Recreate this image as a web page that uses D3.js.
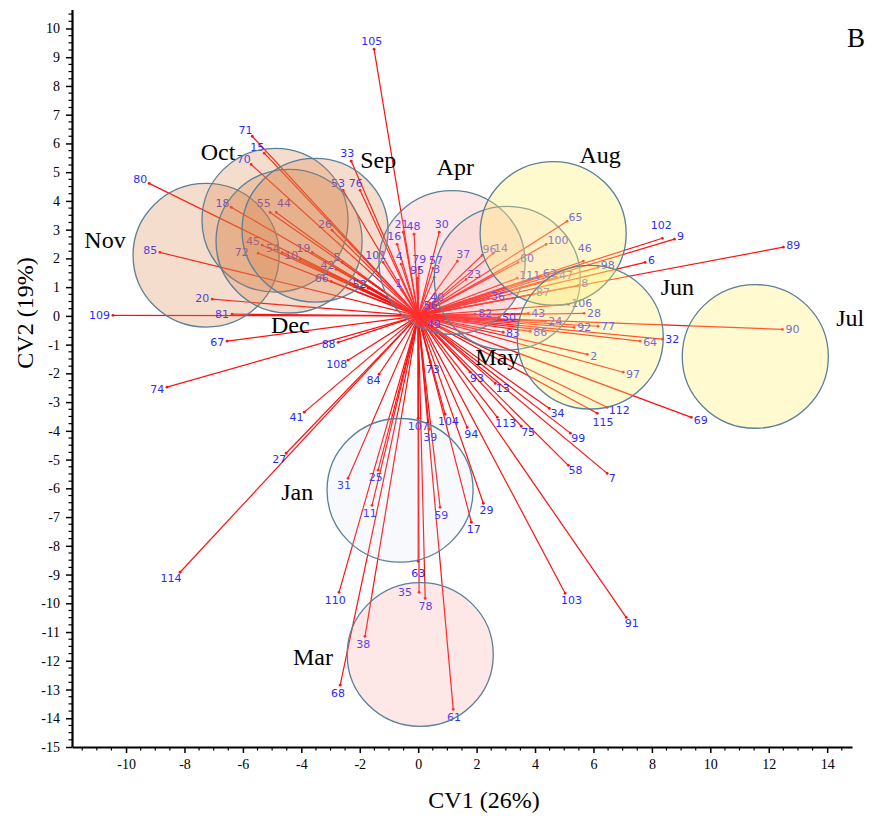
<!DOCTYPE html>
<html>
<head>
<meta charset="utf-8">
<script src="https://cdn.jsdelivr.net/npm/d3@7"></script>
<style>
  body { margin: 0; background: #fff; }
</style>
</head>
<body>
<div id="chart"></div>
<script>
// vector end points (CV1, CV2) per variable
const ids = [109, 80, 85, 74, 20, 81, 67, 18, 71, 15, 70, 55, 44, 45, 72, 54, 10, 19, 26, 5,
  42, 66, 52, 101, 33, 53, 76, 105, 16, 21, 48, 30, 4, 79, 95, 57, 3, 1, 40, 56,
  49, 65, 100, 46, 98, 60, 14, 96, 37, 23, 111, 62, 47, 8, 87, 36, 106, 28, 43, 82,
  50, 24, 92, 77, 86, 83, 102, 9, 6, 89, 90, 32, 64, 2, 97, 112, 115, 69, 99, 7,
  58, 34, 103, 91, 73, 93, 13, 113, 75, 94, 104, 107, 39, 84, 88, 108, 41, 27, 114, 31,
  25, 11, 59, 29, 17, 110, 63, 35, 78, 38, 68, 61];
const cv1 = [-10.45, -9.21, -8.84, -8.60, -7.05, -6.37, -6.54, -6.40, -5.68, -5.27, -5.72, -5.07, -4.86, -5.34, -5.48, -4.66, -4.04, -3.63, -2.95, -2.60,
  -2.81, -2.98, -1.71, -1.20, -2.29, -2.57, -1.99, -1.51, -0.72, -0.51, -0.14, 0.72, -0.58, 0.03, -0.03, 0.51, 0.55, -0.55, 0.41, 0.17,
  0.24, 5.10, 4.38, 5.65, 6.16, 3.42, 2.57, 2.19, 1.34, 1.64, 3.39, 4.18, 4.73, 5.48, 3.94, 2.40, 5.14, 5.68, 3.77, 1.95,
  2.77, 4.35, 5.34, 6.16, 3.84, 2.91, 8.36, 8.77, 7.77, 12.50, 12.47, 8.36, 7.60, 5.79, 7.02, 6.47, 6.13, 9.35, 5.21, 6.47,
  5.14, 4.49, 5.03, 7.12, 0.41, 1.78, 2.64, 2.71, 3.53, 1.68, 0.92, 0.00, 0.38, -1.34, -2.74, -2.40, -3.90, -4.52, -8.15, -2.40,
  -1.37, -1.58, 0.75, 2.23, 1.82, -2.71, 0.00, 0.03, 0.24, -1.82, -2.67, 1.20];
const cv2 = [0.02, 4.61, 2.21, -2.48, 0.58, 0.06, -0.88, 3.78, 6.25, 5.66, 5.27, 3.60, 3.60, 2.46, 2.18, 2.21, 1.97, 2.21, 2.98, 1.86,
  1.62, 1.20, 0.96, 1.86, 5.38, 4.37, 4.37, 9.28, 2.49, 2.91, 2.84, 2.91, 1.80, 1.69, 1.31, 1.66, 1.34, 0.89, 0.44, 0.16,
  -0.15, 3.29, 2.49, 1.90, 1.69, 1.86, 2.18, 2.11, 1.90, 1.27, 1.31, 1.38, 1.34, 1.06, 0.75, 0.61, 0.40, 0.09, 0.09, 0.06,
  -0.05, -0.19, -0.40, -0.36, -0.54, -0.57, 2.70, 2.67, 1.86, 2.39, -0.47, -0.81, -0.88, -1.34, -1.96, -3.18, -3.39, -3.53, -4.08, -5.48,
  -5.20, -3.22, -9.65, -10.49, -1.61, -1.96, -2.35, -3.53, -3.84, -3.88, -3.42, -3.56, -3.95, -2.03, -0.92, -1.54, -3.35, -4.78, -8.92, -5.65,
  -5.37, -6.59, -6.66, -6.52, -7.18, -9.62, -8.54, -9.62, -9.83, -11.15, -12.85, -13.69];

// group (month) centroids and their confidence circles
const months = ['Nov', 'Oct', 'Dec', 'Sep', 'Apr', 'May', 'Aug', 'Jun', 'Jul', 'Jan', 'Mar'];
const monthCV1 = [-7.26, -4.90, -4.42, -3.53, 1.16, 3.05, 4.62, 5.89, 11.54, -0.62, 0.07];
const monthCV2 = [2.11, 3.33, 2.60, 2.98, 1.86, 1.31, 2.87, -0.74, -1.41, -6.07, -11.78];
const monthRadius = [2.5, 2.5, 2.5, 2.5, 2.5, 2.5, 2.5, 2.5, 2.5, 2.5, 2.5];
const monthTextCV1 = [-10.72, -6.85, -4.38, -1.37, 1.27, 2.71, 6.23, 8.87, 14.79, -4.14, -3.60];
const monthTextCV2 = [2.63, 5.69, -0.33, 5.42, 5.17, -1.44, 5.59, 1.00, -0.08, -6.14, -11.88];

const xTicks = [-10, -8, -6, -4, -2, 0, 2, 4, 6, 8, 10, 12, 14];
const yTicks = d3.range(-15, 11, 1);

const monthFill = {
  Nov: 'rgba(215,125,65,0.26)', Oct: 'rgba(215,125,65,0.26)', Dec: 'rgba(215,125,65,0.26)', Sep: 'rgba(215,125,65,0.26)',
  Apr: 'rgba(245,150,150,0.24)', Mar: 'rgba(245,150,145,0.22)', May: 'rgba(245,170,160,0.15)',
  Aug: 'rgba(255,240,110,0.34)', Jun: 'rgba(255,240,110,0.32)', Jul: 'rgba(255,240,110,0.32)',
  Jan: 'rgba(200,215,235,0.15)'
};
const labelNudge = { 102: [-14, -10], 46: [-8, -10], 35: [-14, -8], 63: [0, 4], 44: [16, -4], 55: [2, -4],
  115: [-6, 5], 72: [-7, 2] };

const width = 874, height = 818;
const x = d3.scaleLinear().domain([-11.85, 14.85]).range([72, 852]);
const y = d3.scaleLinear().domain([-15, 10.66]).range([747, 9.5]);
const serif = '"Liberation Serif", "Times New Roman", serif';

const svg = d3.select('#chart').append('svg')
  .attr('width', width).attr('height', height);

const vectors = ids.map((id, i) => ({ id: id, cv1: cv1[i], cv2: cv2[i] }));
const groups = months.map((m, i) => ({ name: m, cv1: monthCV1[i], cv2: monthCV2[i], r: monthRadius[i],
  tx: monthTextCV1[i], ty: monthTextCV2[i] }));

// vectors
svg.append('g').selectAll('line').data(vectors).enter().append('line')
  .attr('x1', x(0)).attr('y1', y(0))
  .attr('x2', d => x(d.cv1)).attr('y2', d => y(d.cv2))
  .attr('stroke', '#ff1010').attr('stroke-width', 1.2);

svg.append('g').selectAll('circle').data(vectors).enter().append('circle')
  .attr('cx', d => x(d.cv1)).attr('cy', d => y(d.cv2)).attr('r', 1.4)
  .attr('fill', '#ff1010');

const labelPos = d => {
  const px = x(d.cv1), py = y(d.cv2);
  const dx = px - x(0), dy = py - y(0);
  const len = Math.hypot(dx, dy) || 1;
  const ux = dx / len, uy = dy / len;
  const w = String(d.id).length * 7, h = 10;
  const n = labelNudge[d.id] || [0, 0];
  return [px + ux * (3 + w / 2) + n[0], py + uy * (3 + h / 2) + n[1]];
};

svg.append('g').selectAll('text').data(vectors).enter().append('text')
  .attr('x', d => labelPos(d)[0]).attr('y', d => labelPos(d)[1])
  .attr('text-anchor', 'middle').attr('dominant-baseline', 'central')
  .style('font-family', '"DejaVu Sans", Verdana, sans-serif').style('font-size', '11px')
  .attr('fill', '#2a2aff')
  .text(d => d.id);

// month circles drawn over vectors
svg.append('g').selectAll('ellipse').data(groups).enter().append('ellipse')
  .attr('cx', d => x(d.cv1)).attr('cy', d => y(d.cv2))
  .attr('rx', d => x(d.r) - x(0)).attr('ry', d => y(0) - y(d.r))
  .attr('fill', d => monthFill[d.name])
  .attr('stroke', '#5a7f98').attr('stroke-width', 1.3);

svg.append('g').selectAll('text').data(groups).enter().append('text')
  .attr('x', d => x(d.tx)).attr('y', d => y(d.ty))
  .attr('text-anchor', 'middle').attr('dominant-baseline', 'central')
  .style('font-family', serif).style('font-size', '24px')
  .attr('fill', '#000')
  .text(d => d.name);

// axes
const xAxisG = svg.append('g').attr('transform', `translate(0,${y(-15)})`)
  .call(d3.axisBottom(x).tickValues(xTicks).tickSize(6).tickSizeOuter(0).tickPadding(6).tickFormat(d => String(d)));
xAxisG.selectAll('.tick line').attr('stroke-width', 1.5);
xAxisG.select('.domain').attr('stroke-width', 2.2);
xAxisG.selectAll('.minor').data(d3.range(-11.5, 14.9, 0.5).filter(v => Math.abs(v % 2) > 0.01))
  .enter().append('line').attr('class', 'minor')
  .attr('x1', d => x(d)).attr('x2', d => x(d)).attr('y1', 0).attr('y2', 3.5)
  .attr('stroke', '#000').attr('stroke-width', 1.2);

const yAxisG = svg.append('g').attr('transform', `translate(${x(-11.85)},0)`)
  .call(d3.axisLeft(y).tickValues(yTicks).tickSize(6).tickSizeOuter(0).tickPadding(6).tickFormat(d => String(d)));
yAxisG.selectAll('.tick line').attr('stroke-width', 1.5);
yAxisG.select('.domain').attr('stroke-width', 2.2);
yAxisG.selectAll('.minor').data(d3.range(-14.75, 10.6, 0.25).filter(v => Math.abs(v % 1) > 0.01))
  .enter().append('line').attr('class', 'minor')
  .attr('y1', d => y(d)).attr('y2', d => y(d)).attr('x1', 0).attr('x2', -3.5)
  .attr('stroke', '#000').attr('stroke-width', 1.2);

svg.selectAll('.tick text')
  .style('font-family', serif).style('font-size', '14px').attr('fill', '#000');

// titles
svg.append('text').attr('x', 484).attr('y', 808).attr('text-anchor', 'middle')
  .style('font-family', serif).style('font-size', '24px')
  .text('CV1 (26%)');
svg.append('text').attr('transform', 'translate(33,313) rotate(-90)').attr('text-anchor', 'middle')
  .style('font-family', serif).style('font-size', '24px')
  .text('CV2 (19%)');
svg.append('text').attr('x', 856).attr('y', 47).attr('text-anchor', 'middle')
  .style('font-family', serif).style('font-size', '27px')
  .text('B');
</script>
</body>
</html>
